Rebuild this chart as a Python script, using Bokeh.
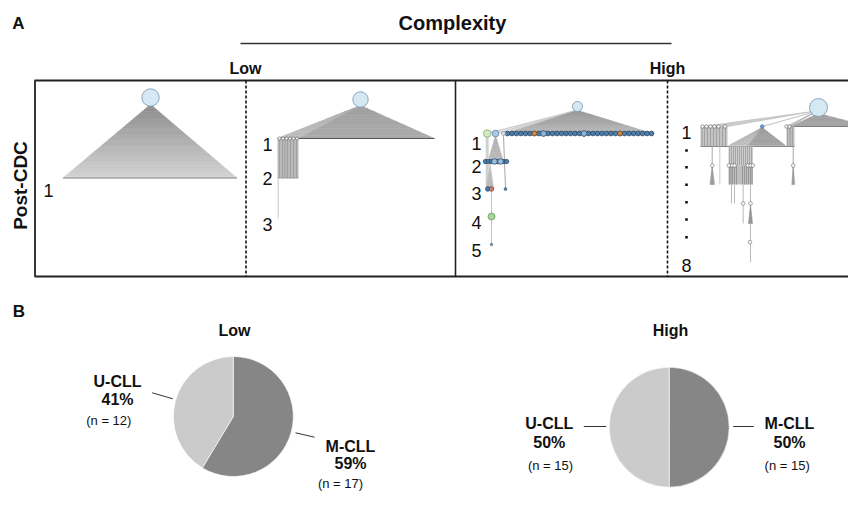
import math
from bokeh.plotting import figure
from bokeh.models import Range1d
from bokeh.embed import file_html
from bokeh.resources import INLINE
from bokeh.core.properties import value

# ---------------- data ----------------
COMPLEXITY = ["Low", "High"]
SUBTYPES = ["M-CLL", "U-CLL"]
COUNTS_LOW = [17, 12]      # M-CLL, U-CLL
COUNTS_HIGH = [15, 15]     # M-CLL, U-CLL
TREE_DEPTHS = [1, 3, 5, 8]  # number of clonal levels of each example tree
CONDITION = "Post-CDC"
PANEL_A_TITLE = "Complexity"

# ---------------- layout (image pixel space) ----------------
IMG_H = 510
FONT = value("Liberation Sans")
SHIFT = 0  # vertical shift of the current section (pixels, upward)


def Y(y):
    return IMG_H - (y - SHIFT)


p = figure(width=848, height=494, x_range=Range1d(0, 848), y_range=Range1d(16, 510),
           output_backend="svg", toolbar_location=None, min_border=0,
           x_axis_location=None, y_axis_location=None)
p.xgrid.visible = False
p.ygrid.visible = False
p.outline_line_color = None
p.background_fill_color = "white"
p.border_fill_color = "white"


def gray(g):
    g = int(max(0, min(255, g)))
    return "#%02x%02x%02x" % (g, g, g)


def txt(x, y, s, size, bold=False, align="center", angle=0.0, color="#111111",
        baseline="alphabetic"):
    p.text(x=[x], y=[Y(y)], text=[s], text_font=FONT, text_font_size=f"{size}px",
           text_font_style="bold" if bold else "normal", text_align=align,
           text_baseline=baseline, angle=angle, text_color=color)


def seg(x0, y0, x1, y1, color="#222222", width=1.0, dash="solid"):
    p.segment(x0=[x0], y0=[Y(y0)], x1=[x1], y1=[Y(y1)], line_color=color,
              line_width=width, line_dash=dash)


def fan(ax, ay, x0, x1, by, g_top, g_bot, n=24, alpha=1.0):
    xs, ys, cols = [], [], []
    for k in range(n):
        t0, t1 = k / n, (k + 1) / n
        lx0, rx0 = ax + (x0 - ax) * t0, ax + (x1 - ax) * t0
        lx1, rx1 = ax + (x0 - ax) * t1, ax + (x1 - ax) * t1
        y0, y1 = ay + (by - ay) * t0, ay + (by - ay) * t1
        xs.append([lx0, rx0, rx1, lx1])
        ys.append([Y(y0), Y(y0), Y(y1), Y(y1)])
        cols.append(gray(g_top + (g_bot - g_top) * (k + 0.5) / n))
    p.patches(xs, ys, fill_color=cols, line_color=cols, line_width=0.6,
              fill_alpha=alpha, line_alpha=alpha)


def block(x0, x1, y0, y1, fill, lines_x=(), line_color="#9a9a9a"):
    p.quad(left=[x0], right=[x1], top=[Y(y0)], bottom=[Y(y1)], fill_color=fill,
           line_color=None)
    if lines_x:
        p.segment(x0=list(lines_x), y0=[Y(y0)] * len(lines_x), x1=list(lines_x),
                  y1=[Y(y1)] * len(lines_x), line_color=line_color, line_width=0.8)


def nodes(xs, y, r, fill, line="#555555", lw=0.7):
    p.circle(x=list(xs), y=[Y(y)] * len(xs), radius=r, radius_units="screen",
             fill_color=fill, line_color=line, line_width=lw)


ROOT_FILL = "#d5e8f4"
ROOT_LINE = "#7f9db3"
BLUE = "#4d7eaa"
BLUE_LINE = "#24415f"

# ---------------- panel A frame ----------------
txt(18, 23.3, "A", 17, bold=True)
txt(452, 22.7, PANEL_A_TITLE, 20, bold=True)
seg(240, 43, 671, 43, color="#333333", width=1.6)
txt(245, 68, COMPLEXITY[0], 16, bold=True)
txt(667, 68, COMPLEXITY[1], 16, bold=True)
txt(19.5, 185, CONDITION, 19, bold=True, angle=math.pi / 2, baseline="middle")

seg(34, 80, 870, 80, color="#222222", width=1.8)
seg(34, 276, 870, 276, color="#222222", width=1.8)
seg(34.5, 80, 34.5, 276, color="#222222", width=1.8)
seg(455, 80, 455, 276, color="#222222", width=1.6)
seg(245.5, 80, 245.5, 276, color="#111111", width=1.6, dash="3 2")
seg(667, 80, 667, 276, color="#111111", width=1.6, dash="3 2")

# ---------------- tree 1 (low, 1 level) ----------------
fan(150, 104, 62.5, 236.5, 177.5, 140, 212, n=40)
seg(62.5, 177.5, 236.5, 177.5, color="#8a8a8a", width=1.2)
nodes([150], 97, 8.7, ROOT_FILL, ROOT_LINE, 0.9)

# ---------------- tree 2 (low, 3 levels) ----------------
fan(360, 105, 277, 434, 138, 160, 172, n=10)
fan(358, 106, 277, 297, 138, 176, 196, n=10, alpha=0.8)
seg(277, 138, 434, 138, color="#555555", width=1.1)
block(277, 298, 138.5, 177.5, "#b9b9b9", [279, 282, 284.5, 287, 290, 293, 296])
seg(277, 177.5, 298, 177.5, color="#9a9a9a", width=1)
seg(277.7, 177.5, 277.7, 218, color="#cfcfcf", width=1.2)
nodes([279, 282.5, 286, 289.5, 293, 296.5], 138, 1.5, "white", "#555555", 0.6)
nodes([360], 99, 7.7, ROOT_FILL, ROOT_LINE, 0.9)

# ---------------- tree 3 (high, 5 levels) ----------------
for lx in (486.7, 495, 503):
    seg(576, 110, lx, 133, color="#cdcdcd", width=1.4)
fan(577, 110, 506, 652, 133, 150, 186, n=24)
fan(495, 135, 487.5, 503, 161, 178, 188, n=6)
seg(486.7, 136, 486.7, 188, color="#d0d0d0", width=3)
seg(503, 135, 505, 188, color="#a8a8a8", width=1)
fan(489.5, 163, 486, 493, 188, 195, 185, n=6)
seg(491, 188.5, 491, 244, color="#c4c4c4", width=1)

BEADS_X = [507, 511.5, 516, 520.5, 525, 529.5, 534, 538.5, 543, 547.5, 552, 556.5,
           561, 565.5, 570, 574.5, 579, 583.5, 588, 592.5, 597, 601.5, 606, 610.5,
           615, 619.5, 624, 628.5, 633, 637.5, 642, 646.5, 651]
nodes(BEADS_X, 133, 2.4, BLUE, BLUE_LINE, 0.7)
nodes([534, 619.5], 133, 2.4, "#d08b4c", "#6b4520", 0.7)
nodes([543, 583.5], 133, 2.9, "#8db4d8", BLUE_LINE, 0.7)
nodes([486.7], 133, 3.8, "#d3e8c2", "#8aa878", 0.8)
nodes([495], 133, 3.3, "#a9cbe5", "#5a82a6", 0.8)
nodes([503], 133, 2.0, "#e0e0e0", "#888888", 0.6)
nodes([485, 488, 491, 497, 503, 506], 161, 2.2, BLUE, BLUE_LINE, 0.7)
nodes([494, 500], 161, 2.8, "#9cc0de", BLUE_LINE, 0.7)
nodes([487.3], 188.5, 2.3, BLUE, BLUE_LINE, 0.7)
nodes([491], 188.5, 2.3, "#d57a7a", "#7a3333", 0.7)
nodes([505], 188.5, 1.5, "#5b86b0", "#2c4a6a", 0.5)
nodes([491], 216, 3.5, "#a6d49b", "#6c9b62", 0.8)
nodes([491], 244, 1.3, "#6e90b8", "#3d5a7a", 0.5)
nodes([577], 106, 5.0, ROOT_FILL, ROOT_LINE, 0.9)

# ---------------- tree 4 (high, 8 levels) ----------------
p.patch([812, 702, 727], [Y(111), Y(126), Y(126)], fill_color="#c9c9c9", line_color="#b5b5b5",
        line_width=0.6, fill_alpha=0.9)
seg(812, 112, 761.7, 126, color="#b0b0b0", width=0.8)
seg(814, 112, 786, 126, color="#a0a0a0", width=0.8)
seg(814, 112, 789, 126, color="#a0a0a0", width=0.8)
fan(818, 113, 790, 868, 126, 160, 166, n=6)
seg(790, 126, 864, 126, color="#777777", width=0.9)
block(700, 727, 126, 146, "#c3c3c3", [701.5, 704, 707, 710, 713, 716, 719, 722, 725])
block(786, 794, 126, 146, "#bdbdbd", [787, 789.5, 792])
fan(761.7, 127, 728, 748, 145, 200, 196, n=6)
for lx in (730, 734, 738, 742, 746):
    seg(761.7, 127, lx, 145, color="#aaaaaa", width=0.6)
fan(761.7, 127, 748, 785, 145, 158, 166, n=8)
seg(700, 146, 794, 146, color="#888888", width=1)
seg(711.7, 146, 711.7, 184, color="#a8a8a8", width=1)
fan(711.7, 166, 709.5, 714, 184, 150, 160, n=3)
seg(719.3, 146, 719.3, 184, color="#bdbdbd", width=0.8)
block(728, 752.5, 146, 165, "#cdcdcd", [729, 731, 733, 735, 737, 739, 741, 743, 745, 747, 749, 751])
block(728, 752.5, 165, 184, "#bfbfbf", [729, 730.5, 732, 734, 736, 742, 744, 746, 748, 750, 751.5],
      line_color="#8c8c8c")
seg(792.7, 146, 792.7, 184, color="#a8a8a8", width=1)
fan(792.7, 166, 791.3, 794.2, 184, 150, 160, n=3)
seg(731, 184, 731, 203, color="#bbbbbb", width=1)
seg(734, 184, 734, 203, color="#bbbbbb", width=1)
seg(742.7, 184, 742.7, 223, color="#bbbbbb", width=1)
seg(750, 184, 750, 261.7, color="#bbbbbb", width=1)
fan(750, 204, 748, 752, 223, 150, 150, n=2)
nodes([702, 706, 710, 714, 718, 724.5], 126, 1.7, "white", "#555555", 0.6)
nodes([786, 789], 126, 1.7, "white", "#555555", 0.6)
nodes([761.7], 126, 1.8, "#6ea2d2", "#3a5f85", 0.6)
nodes([711.7, 728.3, 731.7, 734, 747.3, 750, 752.3, 792.7], 165, 1.8, "white", "#666666", 0.6)
nodes([742.7, 750], 203, 1.8, "white", "#666666", 0.6)
nodes([749.5], 241.7, 1.8, "white", "#666666", 0.6)
nodes([818], 107, 9.0, ROOT_FILL, ROOT_LINE, 0.9)

# ---------------- level labels ----------------
LABEL_X = [48, 267, 476, 686]
LABEL_Y = [[183.5], [137.8, 172, 218], [136.3, 159.3, 186.7, 215.3, 243.7],
           [126, 150, 166.7, 184.3, 201.7, 219, 236.7, 258.7]]
for depth, lx, lys in zip(TREE_DEPTHS, LABEL_X, LABEL_Y):
    for lvl in range(1, depth + 1):
        cy = lys[lvl - 1]
        if depth > 5 and 1 < lvl < depth:
            p.scatter(x=[lx], y=[Y(cy)], marker="square", size=2.6, fill_color="#111111",
                      line_color=None)
        else:
            txt(lx, cy + 6.4, str(lvl), 18)

# ---------------- panel B: pies ----------------
SHIFT = 20
txt(18.3, 330.7, "B", 17, bold=True)
PIE_CX = [232.8, 668.7]
PIE_CY = [436, 446.7]
PIE_R = 60
PIE_COLORS = ["#868686", "#cbcbcb"]
TITLE_X = [234, 670]

for gi, (name, counts) in enumerate(zip(COMPLEXITY, [COUNTS_LOW, COUNTS_HIGH])):
    total = sum(counts)
    c0 = 0.0
    for si, c in enumerate(counts):
        c1 = c0 + c / total
        p.wedge(x=[PIE_CX[gi]], y=[Y(PIE_CY[gi])], radius=PIE_R, radius_units="screen",
                start_angle=math.pi / 2 - 2 * math.pi * c1,
                end_angle=math.pi / 2 - 2 * math.pi * c0,
                fill_color=PIE_COLORS[si], line_color="white", line_width=0.6)
        c0 = c1
    txt(TITLE_X[gi], 350, name, 16, bold=True)

# label positions: [group][subtype] -> (x centre, baseline 1, baseline 2, x n, baseline n, leader)
LBL = {
    (0, 0): (350, 465.7, 483.3, 340, 503, (295, 452.3, 314, 456.7)),
    (0, 1): (117, 400.7, 419, 108.3, 440, (151.7, 412.3, 172.3, 418.3)),
    (1, 0): (789, 442.7, 461.7, 786.7, 485, (732.7, 446, 753.3, 446)),
    (1, 1): (548.8, 442.7, 461.7, 550, 485, (583.3, 446, 605.7, 446)),
}
for gi, counts in enumerate([COUNTS_LOW, COUNTS_HIGH]):
    total = sum(counts)
    for si, c in enumerate(counts):
        x, b1, b2, xn, bn, ln = LBL[(gi, si)]
        txt(x, b1, SUBTYPES[si], 16, bold=True)
        txt(x, b2, f"{round(100 * c / total)}%", 16, bold=True)
        txt(xn, bn, f"(n = {c})", 13)
        seg(ln[0], ln[1], ln[2], ln[3], color="#333333", width=1)

open("out.html", "w").write(file_html(p, INLINE))
